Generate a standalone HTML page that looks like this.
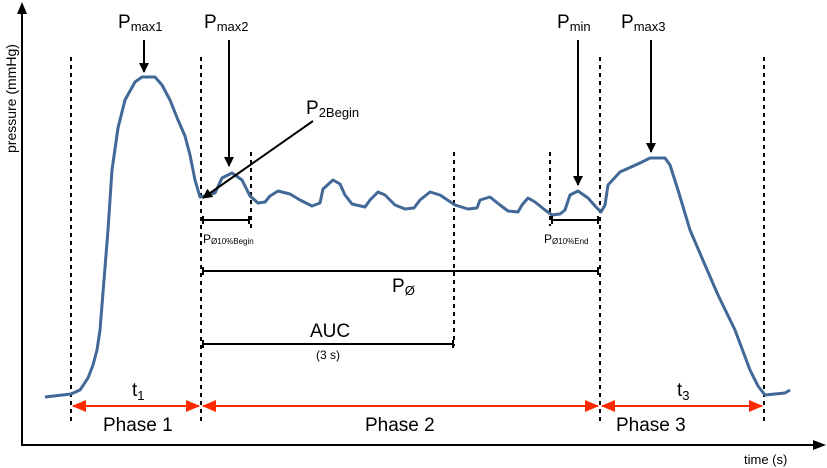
<!DOCTYPE html>
<html><head><style>
html,body{margin:0;padding:0;background:#fff}
svg{display:block}
text{font-family:"Liberation Sans",Arial,sans-serif;fill:#000}
</style></head><body>
<svg width="827" height="468" viewBox="0 0 827 468" xmlns="http://www.w3.org/2000/svg">
<defs>
<marker id="ab" markerWidth="10" markerHeight="10" refX="9" refY="5" orient="auto" markerUnits="userSpaceOnUse"><path d="M0,0 L10,5 L0,10 z" fill="#000"/></marker>
<marker id="ar" markerWidth="14" markerHeight="12" refX="13" refY="6" orient="auto-start-reverse" markerUnits="userSpaceOnUse"><path d="M0,0 L14,6 L0,12 z" fill="#ff2a00"/></marker>
</defs>
<line x1="22" y1="446" x2="22" y2="12" stroke="#000" stroke-width="2"/>
<path d="M17,14 L22,2 L27,14 z" fill="#000"/>
<line x1="21" y1="445" x2="815" y2="445" stroke="#000" stroke-width="2"/>
<path d="M813,440 L826,445 L813,450 z" fill="#000"/>
<text x="744" y="464" font-size="13">time (s)</text>
<text transform="translate(16,153) rotate(-90)" font-size="14">pressure (mmHg)</text>
<g stroke="#000" stroke-width="2" stroke-dasharray="4,4">
<line x1="71" y1="57" x2="71" y2="422"/>
<line x1="201" y1="57" x2="201" y2="422"/>
<line x1="600" y1="57" x2="600" y2="422"/>
<line x1="764" y1="57" x2="764" y2="422"/>
<line x1="251" y1="152" x2="251" y2="228"/>
<line x1="550" y1="152" x2="550" y2="226"/>
<line x1="454" y1="152" x2="454" y2="346"/>
</g>
<polyline fill="none" stroke="#416897" stroke-width="3" stroke-linejoin="round" points="45,397 71,394 80,390 88,378 93,365 97,350 100,330 104,280 108,230 112,170 118,128 125,100 135,82 142,77 155,77 162,85 170,100 178,120 185,136 190,155 195,180 200,197 205,196 215,193 222,178 232,173 242,180 250,196 258,203 265,202 270,196 278,191 290,194 300,200 312,206 320,203 323,189 333,180 340,184 345,195 352,204 365,207 370,200 378,192 385,195 395,205 405,209 414,208 420,200 430,192 440,195 455,205 468,209 477,208 480,200 490,197 500,205 508,211 518,212 522,205 528,198 535,202 545,210 552,215 560,214 565,210 570,195 578,191 588,198 596,207 601,212 605,205 608,185 620,172 640,163 650,158 665,158 670,165 678,190 690,230 705,265 718,295 735,330 750,370 758,386 765,395 785,393 790,390"/>
<g stroke="#000" stroke-width="2">
<line x1="144" y1="40" x2="144" y2="72" marker-end="url(#ab)"/>
<line x1="229" y1="40" x2="229" y2="166" marker-end="url(#ab)"/>
<line x1="578" y1="40" x2="578" y2="185" marker-end="url(#ab)"/>
<line x1="651" y1="40" x2="651" y2="152" marker-end="url(#ab)"/>
<line x1="313" y1="121" x2="203" y2="198" marker-end="url(#ab)"/>
</g>
<g font-size="19">
<text x="118" y="28">P<tspan font-size="13" dy="3">max1</tspan></text>
<text x="204" y="28">P<tspan font-size="13" dy="3">max2</tspan></text>
<text x="557" y="28">P<tspan font-size="13" dy="3">min</tspan></text>
<text x="621" y="28">P<tspan font-size="13" dy="3">max3</tspan></text>
<text x="306" y="114">P<tspan font-size="13" dy="3">2Begin</tspan></text>
</g>
<g stroke="#000" stroke-width="2">
<line x1="203" y1="220" x2="250" y2="220"/><line x1="203" y1="216" x2="203" y2="224"/><line x1="249" y1="216" x2="249" y2="224"/>
<line x1="552" y1="220" x2="598" y2="220"/><line x1="552" y1="216" x2="552" y2="224"/><line x1="598" y1="216" x2="598" y2="224"/>
<line x1="203" y1="271" x2="598" y2="271"/><line x1="203" y1="267" x2="203" y2="275"/><line x1="598" y1="267" x2="598" y2="275"/>
<line x1="203" y1="344" x2="453" y2="344"/><line x1="203" y1="340" x2="203" y2="348"/><line x1="453" y1="340" x2="453" y2="348"/>
</g>
<text x="203" y="243" font-size="12">P<tspan font-size="8" dy="1">Ø10%Begin</tspan></text>
<text x="544" y="243" font-size="12">P<tspan font-size="8" dy="1">Ø10%End</tspan></text>
<text x="392" y="292" font-size="19">P<tspan font-size="13" dy="3">Ø</tspan></text>
<text x="310" y="337" font-size="19">AUC</text>
<text x="316" y="359" font-size="12">(3 s)</text>
<g stroke="#ff2a00" stroke-width="2">
<line x1="73" y1="406" x2="199" y2="406" marker-start="url(#ar)" marker-end="url(#ar)"/>
<line x1="203" y1="406" x2="598" y2="406" marker-start="url(#ar)" marker-end="url(#ar)"/>
<line x1="602" y1="406" x2="762" y2="406" marker-start="url(#ar)" marker-end="url(#ar)"/>
</g>
<g font-size="19">
<text x="132" y="396">t<tspan font-size="13" dy="4">1</tspan></text>
<text x="677" y="396">t<tspan font-size="13" dy="4">3</tspan></text>
<text x="103" y="431">Phase 1</text>
<text x="365" y="431">Phase 2</text>
<text x="616" y="431">Phase 3</text>
</g>
</svg>
</body></html>
